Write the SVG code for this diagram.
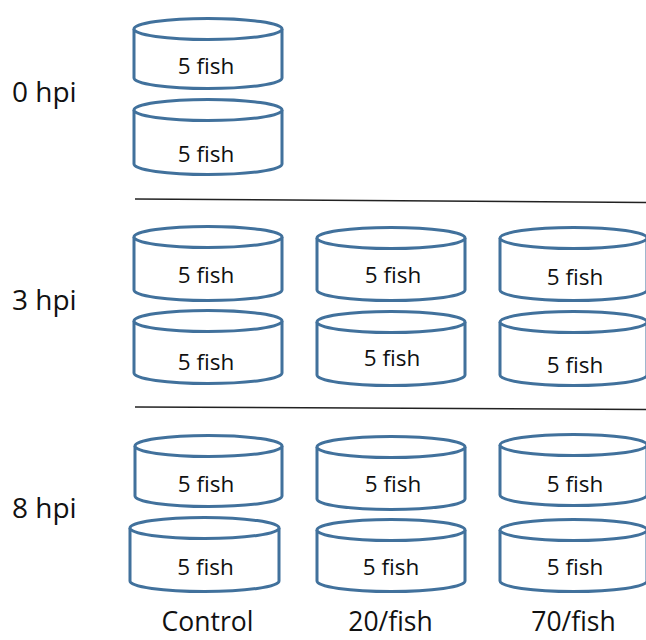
<svg xmlns="http://www.w3.org/2000/svg" width="646" height="640" viewBox="0 0 646 640">
  <style>
    .dish { fill: #ffffff; stroke: #41719c; stroke-width: 3; stroke-linejoin: round; }
    .cnt { font-family: "Open Sans", "Liberation Sans", sans-serif; font-size: 22.5px; fill: #111111; text-anchor: middle; }
    .row { font-family: "Open Sans", "Liberation Sans", sans-serif; font-size: 28px; fill: #111111; }
    .col { font-family: "Open Sans", "Liberation Sans", sans-serif; font-size: 26.5px; fill: #111111; text-anchor: middle; }
    .sep { stroke: #222222; stroke-width: 1.5; fill: none; }
  </style>

  <!-- row labels -->
  <text class="row" x="12" y="102">0 hpi</text>
  <text class="row" x="12" y="310">3 hpi</text>
  <text class="row" x="12" y="518">8 hpi</text>

  <!-- group separators -->
  <g id="separators">
    <line class="sep" x1="135" y1="199" x2="646" y2="202.5"/>
    <line class="sep" x1="135" y1="407" x2="646" y2="409.5"/>
  </g>

  <!-- 0 hpi -->
  <g id="dish-0h-a">
    <path class="dish" d="M134 29 L134 78 A74 10.5 0 0 0 282 78 L282 29"/>
    <ellipse class="dish" cx="208" cy="29" rx="74" ry="10.5"/>
    <text class="cnt" x="206" y="74">5 fish</text>
  </g>
  <g id="dish-0h-b">
    <path class="dish" d="M134 110 L134 164 A74 10.5 0 0 0 282 164 L282 110"/>
    <ellipse class="dish" cx="208" cy="110" rx="74" ry="10.5"/>
    <text class="cnt" x="206" y="162">5 fish</text>
  </g>

  <!-- 3 hpi -->
  <g id="dish-3h-control-a">
    <path class="dish" d="M134 237 L134 290 A74 10.5 0 0 0 282 290 L282 237"/>
    <ellipse class="dish" cx="208" cy="237" rx="74" ry="10.5"/>
    <text class="cnt" x="206" y="283">5 fish</text>
  </g>
  <g id="dish-3h-control-b">
    <path class="dish" d="M134 321 L134 373 A74 10.5 0 0 0 282 373 L282 321"/>
    <ellipse class="dish" cx="208" cy="321" rx="74" ry="10.5"/>
    <text class="cnt" x="206" y="370">5 fish</text>
  </g>
  <g id="dish-3h-20-a">
    <path class="dish" d="M317 238 L317 290 A74 10.5 0 0 0 465 290 L465 238"/>
    <ellipse class="dish" cx="391" cy="238" rx="74" ry="10.5"/>
    <text class="cnt" x="393" y="283">5 fish</text>
  </g>
  <g id="dish-3h-20-b">
    <path class="dish" d="M317 322 L317 375 A74 10.5 0 0 0 465 375 L465 322"/>
    <ellipse class="dish" cx="391" cy="322" rx="74" ry="10.5"/>
    <text class="cnt" x="392" y="366">5 fish</text>
  </g>
  <g id="dish-3h-70-a">
    <path class="dish" d="M500 238 L500 290 A73.5 10.5 0 0 0 647 290 L647 238"/>
    <ellipse class="dish" cx="573.5" cy="238" rx="73.5" ry="10.5"/>
    <text class="cnt" x="575" y="285">5 fish</text>
  </g>
  <g id="dish-3h-70-b">
    <path class="dish" d="M500 322 L500 375 A73.5 10.5 0 0 0 647 375 L647 322"/>
    <ellipse class="dish" cx="573.5" cy="322" rx="73.5" ry="10.5"/>
    <text class="cnt" x="575" y="373">5 fish</text>
  </g>

  <!-- 8 hpi -->
  <g id="dish-8h-control-a">
    <path class="dish" d="M135 446 L135 496 A73.5 10.5 0 0 0 282 496 L282 446"/>
    <ellipse class="dish" cx="208.5" cy="446" rx="73.5" ry="10.5"/>
    <text class="cnt" x="206" y="492">5 fish</text>
  </g>
  <g id="dish-8h-control-b">
    <path class="dish" d="M130 528 L130 581 A74.5 10.5 0 0 0 279 581 L279 528"/>
    <ellipse class="dish" cx="204.5" cy="528" rx="74.5" ry="10.5"/>
    <text class="cnt" x="205.5" y="575">5 fish</text>
  </g>
  <g id="dish-8h-20-a">
    <path class="dish" d="M317 447 L317 499 A74 10.5 0 0 0 465 499 L465 447"/>
    <ellipse class="dish" cx="391" cy="447" rx="74" ry="10.5"/>
    <text class="cnt" x="393" y="492">5 fish</text>
  </g>
  <g id="dish-8h-20-b">
    <path class="dish" d="M317 530 L317 581 A74 10.5 0 0 0 465 581 L465 530"/>
    <ellipse class="dish" cx="391" cy="530" rx="74" ry="10.5"/>
    <text class="cnt" x="391" y="575">5 fish</text>
  </g>
  <g id="dish-8h-70-a">
    <path class="dish" d="M500 445 L500 495 A73.5 10.5 0 0 0 647 495 L647 445"/>
    <ellipse class="dish" cx="573.5" cy="445" rx="73.5" ry="10.5"/>
    <text class="cnt" x="575" y="492">5 fish</text>
  </g>
  <g id="dish-8h-70-b">
    <path class="dish" d="M500 530 L500 581 A73.5 10.5 0 0 0 647 581 L647 530"/>
    <ellipse class="dish" cx="573.5" cy="530" rx="73.5" ry="10.5"/>
    <text class="cnt" x="575" y="575">5 fish</text>
  </g>

  <!-- column labels -->
  <text class="col" x="207.5" y="631">Control</text>
  <text class="col" x="390.5" y="631">20/fish</text>
  <text class="col" x="573.5" y="631">70/fish</text>
</svg>
